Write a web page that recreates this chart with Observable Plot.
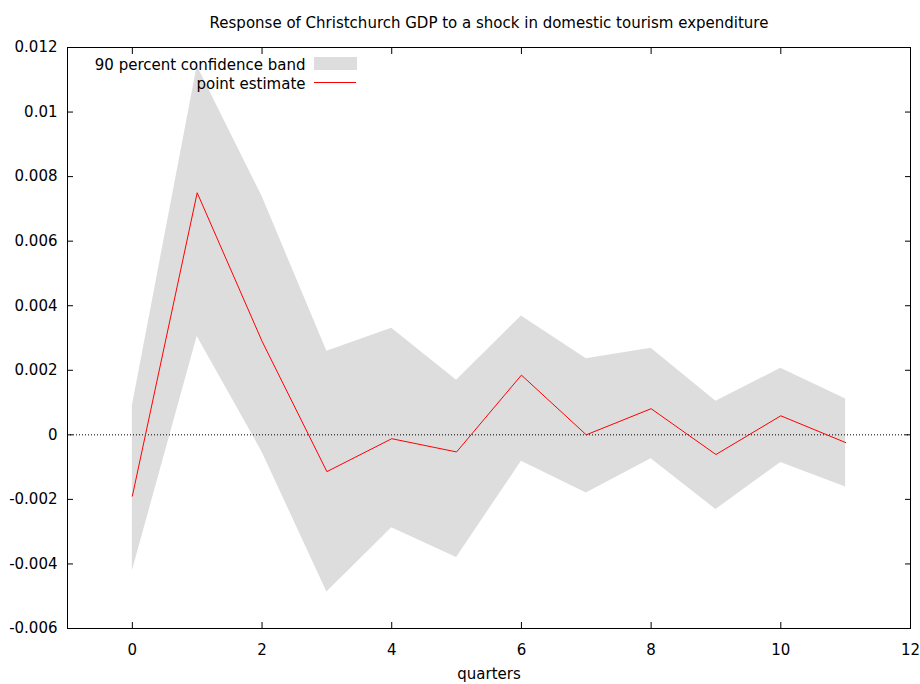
<!DOCTYPE html>
<html>
<head>
<meta charset="utf-8">
<script src="https://cdn.jsdelivr.net/npm/d3@7"></script>
<script src="https://cdn.jsdelivr.net/npm/@observablehq/plot@0.6"></script>
<style>
  html, body { margin: 0; padding: 0; background: #fff; }
  #chart svg { display: block; }
</style>
</head>
<body>
<div id="chart"></div>
<script>
const title = "Response of Christchurch GDP to a shock in domestic tourism expenditure";
const xLabel = "quarters";
const quarters = [0, 1, 2, 3, 4, 5, 6, 7, 8, 9, 10, 11];
const pointEstimate = [-0.0019, 0.0075, 0.0029, -0.00114, -0.00012, -0.00053, 0.00185, 0.0, 0.00081, -0.00061, 0.00059, -0.00024];
const upperBand = [0.00089, 0.01143, 0.00739, 0.00259, 0.0033, 0.00169, 0.00368, 0.00236, 0.00268, 0.00104, 0.00206, 0.00111];
const lowerBand = [-0.00422, 0.00305, -0.00053, -0.00487, -0.00288, -0.0038, -0.00082, -0.0018, -0.00074, -0.00231, -0.00086, -0.00162];
const xTicks = [0, 2, 4, 6, 8, 10, 12];
const yTicks = [-0.006, -0.004, -0.002, 0, 0.002, 0.004, 0.006, 0.008, 0.01, 0.012];
const legendLabels = ["90 percent confidence band", "point estimate"];

const data = quarters.map((q, i) => ({q, est: pointEstimate[i], lo: lowerBand[i], hi: upperBand[i]}));
const fmtY = d => String(+d.toFixed(3));

const mL = 67, mT = 47;
const chart = Plot.plot({
  width: 920,
  height: 684,
  marginLeft: mL,
  marginRight: 10,
  marginTop: mT,
  marginBottom: 56,
  style: {fontFamily: "DejaVu Sans", fontSize: "15px", color: "black", background: "white"},
  x: {domain: [-1, 12], label: null},
  y: {domain: [-0.006, 0.012], label: null},
  marks: [
    Plot.areaY(data, {x: "q", y1: "lo", y2: "hi", fill: "#dddddd", curve: "linear"}),
    Plot.ruleY([0], {stroke: "black", strokeWidth: 1, strokeDasharray: "1,2"}),
    Plot.lineY(data, {x: "q", y: "est", stroke: "#ff0000", strokeWidth: 1}),
    Plot.frame({stroke: "black", strokeWidth: 1}),
    Plot.axisX({ticks: xTicks, anchor: "bottom", tickSize: -6, fill: null, label: null}),
    Plot.axisX({ticks: xTicks, anchor: "top", tickSize: -6, fill: null, label: null}),
    Plot.axisX({ticks: xTicks, anchor: "bottom", tickSize: 0, tickPadding: 16, label: null, fontSize: 15}),
    Plot.axisY({ticks: yTicks, anchor: "left", tickSize: -6, fill: null, label: null}),
    Plot.axisY({ticks: yTicks, anchor: "right", tickSize: -6, fill: null, label: null}),
    Plot.axisY({ticks: yTicks, anchor: "left", tickSize: 0, tickPadding: 10, tickFormat: fmtY, label: null}),
    Plot.text([title], {frameAnchor: "top", dy: -30, fontSize: 15}),
    Plot.text([xLabel], {frameAnchor: "bottom", dy: 50, fontSize: 15}),
    Plot.text([legendLabels[0]], {frameAnchor: "top-left", dx: 238, dy: 12, textAnchor: "end", fontSize: 15}),
    Plot.text([legendLabels[1]], {frameAnchor: "top-left", dx: 238, dy: 31, textAnchor: "end", fontSize: 15})
  ]
});

const svg = d3.select(chart);
const leg = svg.append("g");
leg.append("rect").attr("x", mL + 247).attr("y", mT + 10).attr("width", 43).attr("height", 13).attr("fill", "#dddddd");
leg.append("line").attr("x1", mL + 247).attr("x2", mL + 289).attr("y1", mT + 35.5).attr("y2", mT + 35.5).attr("stroke", "#ff0000").attr("stroke-width", 1);

document.getElementById("chart").append(chart);
</script>
</body>
</html>
